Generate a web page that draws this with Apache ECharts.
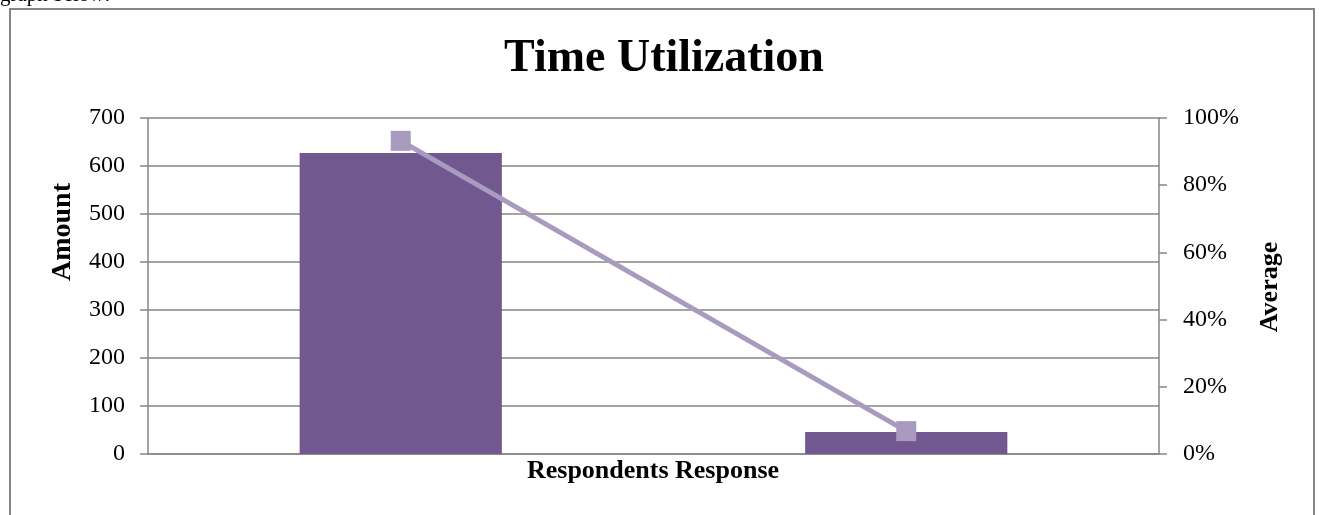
<!DOCTYPE html>
<html>
<head>
<meta charset="utf-8">
<title>Time Utilization</title>
<script src="https://cdn.jsdelivr.net/npm/echarts@6/dist/echarts.min.js"></script>
<style>
  html, body { margin: 0; padding: 0; background: #fff; }
  #chart { width: 1319px; height: 515px; }
</style>
</head>
<body>
<div id="chart"></div>
<script>
  // data
  const categories = ['', '']
  const amounts = [627, 46]
  const averages = [0.932, 0.068]
  const leftTicks = { min: 0, max: 700, step: 100 }
  const rightTicks = { min: 0, max: 1, step: 0.2 }

  const serif = '"Liberation Serif", "DejaVu Serif", serif'
  const grey = '#868686'

  const chart = echarts.init(document.getElementById('chart'))
  const option = {
    animation: false,
    textStyle: { fontFamily: serif },
    grid: {
      left: 148,
      right: 160,
      top: 118,
      bottom: 61,
      containLabel: false
    },
    graphic: [
      {
        type: 'rect',
        shape: { x: 10, y: 9, width: 1304, height: 530 },
        style: { fill: 'none', stroke: grey, lineWidth: 2 }
      },
      {
        type: 'text',
        x: 0, y: 6,
        style: {
          text: 'graph below:',
          font: '21px ' + serif,
          fill: '#000',
          verticalAlign: 'bottom'
        }
      },
      {
        type: 'text',
        x: 664, y: 59,
        style: {
          text: 'Time Utilization',
          font: 'bold 46px ' + serif,
          fill: '#000',
          align: 'center',
          verticalAlign: 'middle'
        }
      },
      {
        type: 'text',
        x: 63, y: 232,
        rotation: Math.PI / 2,
        style: {
          text: 'Amount',
          font: 'bold 28px ' + serif,
          fill: '#000',
          align: 'center',
          verticalAlign: 'middle'
        }
      },
      {
        type: 'text',
        x: 1270, y: 287,
        rotation: Math.PI / 2,
        style: {
          text: 'Average',
          font: 'bold 26px ' + serif,
          fill: '#000',
          align: 'center',
          verticalAlign: 'middle'
        }
      },
      {
        type: 'text',
        x: 653, y: 471,
        style: {
          text: 'Respondents Response',
          font: 'bold 26px ' + serif,
          fill: '#000',
          align: 'center',
          verticalAlign: 'middle'
        }
      }
    ],
    xAxis: {
      type: 'category',
      data: categories,
      axisLine: { lineStyle: { color: grey, width: 1.5 } },
      axisTick: { show: false },
      axisLabel: { show: false }
    },
    yAxis: [
      {
        type: 'value',
        min: leftTicks.min,
        max: leftTicks.max,
        interval: leftTicks.step,
        axisLine: { show: true, lineStyle: { color: grey, width: 1.5 } },
        axisTick: { show: true, length: 8, lineStyle: { color: grey, width: 1.5 } },
        axisLabel: { color: '#000', fontSize: 24, fontFamily: serif, margin: 23 },
        splitLine: { lineStyle: { color: grey, width: 1.5 } }
      },
      {
        type: 'value',
        min: rightTicks.min,
        max: rightTicks.max,
        interval: rightTicks.step,
        position: 'right',
        axisLine: { show: true, lineStyle: { color: grey, width: 1.5 } },
        axisTick: { show: true, length: 8, lineStyle: { color: grey, width: 1.5 } },
        axisLabel: {
          color: '#000', fontSize: 24, fontFamily: serif, margin: 24,
          formatter: v => Math.round(v * 100) + '%'
        },
        splitLine: { show: false }
      }
    ],
    series: [
      {
        name: 'Amount',
        type: 'bar',
        data: amounts,
        barWidth: '40%',
        itemStyle: { color: '#71588F' }
      },
      {
        name: 'Average',
        type: 'line',
        yAxisIndex: 1,
        data: averages,
        symbol: 'rect',
        symbolSize: 20,
        lineStyle: { color: '#A99BC0', width: 5 },
        itemStyle: { color: '#A99BC0' }
      }
    ]
  }
  chart.setOption(option)
  window.addEventListener('resize', () => chart.resize())
</script>
</body>
</html>
